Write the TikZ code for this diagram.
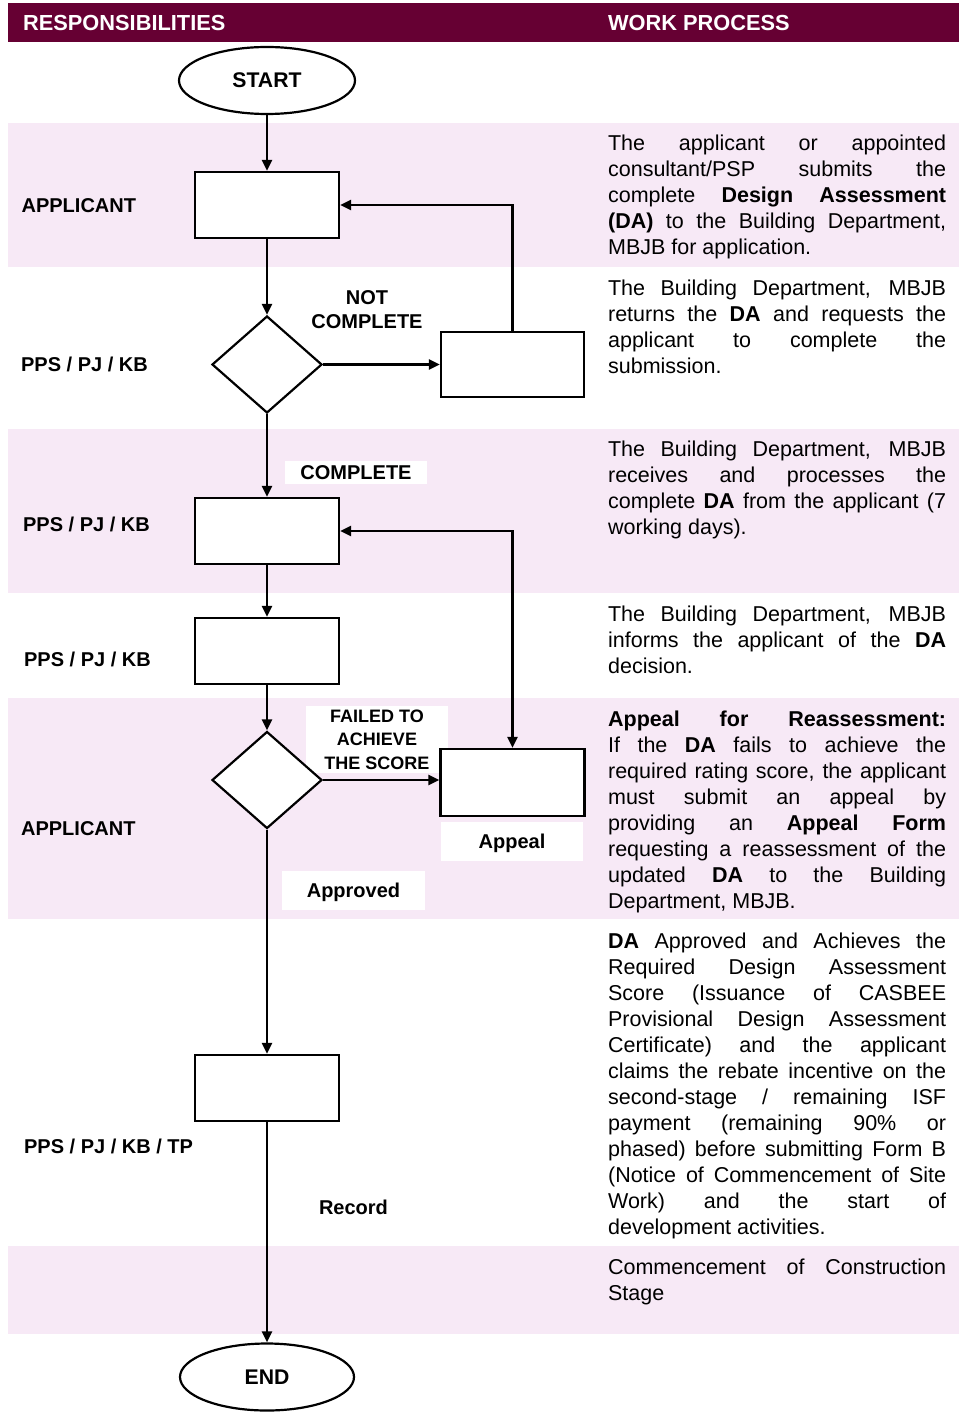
\documentclass[tikz,border=0pt]{standalone}
\usepackage{fontspec}
\setmainfont{Liberation Sans}
\usetikzlibrary{shapes.geometric,arrows.meta}
\definecolor{hdr}{RGB}{102,0,51}
\definecolor{band}{RGB}{247,233,246}
\newcommand\jline[1]{\hbox to 338pt{#1}}
\newcommand\lline[1]{\hbox{#1}}
\newcommand\bo[1]{{\bfseries #1}}
\newcommand\paratext[1]{\vtop{\baselineskip=26pt\lineskiplimit=-\maxdimen\lineskip=0pt #1}}
\hbadness=10000
\hfuzz=30pt
\begin{document}
\begin{tikzpicture}[x=1pt,y=-1pt,line width=2.2pt,
  box/.style={draw,fill=white,rectangle,minimum width=144pt,minimum height=66pt,inner sep=0pt},
  dia/.style={draw,fill=white,diamond,minimum width=110pt,minimum height=97pt,inner sep=0pt},
  term/.style={draw,fill=white,ellipse,minimum width=176pt,minimum height=67pt,inner sep=0pt,font=\bfseries\fontsize{21.2}{24}\selectfont},
  arr/.style={-{Triangle[length=11pt,width=10pt]}},
  arrtwo/.style={{Triangle[length=11pt,width=10pt]}-{Triangle[length=11pt,width=10pt]}},
  hdrtxt/.style={text=white,inner sep=0pt,font=\bfseries\fontsize{21.8}{24}\selectfont},
  lab/.style={inner sep=0pt,font=\bfseries\fontsize{20}{24}\selectfont},
  wlab/.style={fill=white,inner sep=0pt,text height=14.4pt,text depth=0pt,font=\bfseries\fontsize{20}{24}\selectfont},
  body/.style={anchor=base west,inner sep=0pt,font=\fontsize{21.5}{26}\selectfont}]
\useasboundingbox (0,0) rectangle (959,1412);
% header and bands
\fill[hdr] (8,3) rectangle (959,42);
\fill[band] (8,123) rectangle (959,267);
\fill[band] (8,429) rectangle (959,593);
\fill[band] (8,698) rectangle (959,919);
\fill[band] (8,1246) rectangle (959,1334);
\node[hdrtxt,anchor=base west] (h1) at (22,30.5) {RESPONSIBILITIES};
\node[hdrtxt,anchor=base west] (h2) at (607,30.5) {WORK PROCESS};
% responsibilities
\node[lab,anchor=base west] (r1) at (20.5,212.5) {APPLICANT};
\node[lab,anchor=base west] (r2) at (20,371) {PPS / PJ / KB};
\node[lab,anchor=base west] (r3) at (22,531) {PPS / PJ / KB};
\node[lab,anchor=base west] (r4) at (23,666) {PPS / PJ / KB};
\node[lab,anchor=base west] (r5) at (20,835) {APPLICANT};
\node[lab,anchor=base west] (r6) at (23,1153) {PPS / PJ / KB / TP};
% connector labels (drawn under the boxes)
\node[lab,align=center] (lnc) at (367,310) {NOT\\COMPLETE};
\node[wlab,minimum width=142pt,minimum height=23pt] (lc) at (356,472.5) {COMPLETE};
\node[fill=white,inner sep=0pt,minimum width=142pt,minimum height=67pt,align=center,font=\bfseries\fontsize{18}{23.5}\selectfont] (lf) at (377,739.5) {FAILED TO\\ACHIEVE\\THE SCORE};
\node[wlab,minimum width=142pt,minimum height=39pt] (lap) at (512,841.5) {Appeal};
\node[wlab,minimum width=143pt,minimum height=39pt] (lok) at (353.5,890.5) {Approved};
\node[lab] (lrec) at (353.5,1207) {Record};
% flow nodes
\node[term] (start) at (267,80.5) {START};
\node[box] (b1) at (267,205) {};
\node[dia] (d1) at (267,364.5) {};
\node[box,minimum width=143pt,minimum height=65pt] (b2) at (512.5,364.5) {};
\node[box] (b3) at (267,531) {};
\node[box] (b4) at (267,651) {};
\node[dia] (d2) at (267,780) {};
\node[box,minimum height=67pt] (ap) at (512.5,782.5) {};
\node[box] (b5) at (267,1088) {};
\node[term,minimum width=174pt] (end) at (267,1377) {END};
% connectors
\draw[arr] (start.south) -- (b1.north);
\draw[arr] (b1.south) -- (d1.north);
\draw[arr] (d1.east) -- (d1.east -| b2.west);
\draw[arr] (b2.north) |- (b1.east);
\draw[arr] (d1.south) -- (b3.north);
\draw[arr] (b3.south) -- (b4.north);
\draw[arr] (b4.south) -- (d2.north);
\draw[arr] (d2.east) -- (d2.east -| ap.west);
\draw[arrtwo] (b3.east) -| (ap.north);
\draw[arr] (d2.south) -- (b5.north);
\draw[arr] (b5.south) -- (end.north);
% work process texts
\node[body] (t1) at (607,151) {\paratext{%
\jline{The applicant or appointed}
\jline{consultant/PSP submits the}
\jline{complete \bo{Design Assessment}}
\jline{\bo{(DA)} to the Building Department,}
\lline{MBJB for application.}}};
\node[body] (t2) at (607,295) {\paratext{%
\jline{The Building Department, MBJB}
\jline{returns the \bo{DA} and requests the}
\jline{applicant to complete the}
\lline{submission.}}};
\node[body] (t3) at (607,456) {\paratext{%
\jline{The Building Department, MBJB}
\jline{receives and processes the}
\jline{complete \bo{DA} from the applicant (7}
\lline{working days).}}};
\node[body] (t4) at (607,621) {\paratext{%
\jline{The Building Department, MBJB}
\jline{informs the applicant of the \bo{DA}}
\lline{decision.}}};
\node[body] (t5) at (607,726) {\paratext{%
\jline{\bo{Appeal for Reassessment:}}
\jline{If the \bo{DA} fails to achieve the}
\jline{required rating score, the applicant}
\jline{must submit an appeal by}
\jline{providing an \bo{Appeal Form}}
\jline{requesting a reassessment of the}
\jline{updated \bo{DA} to the Building}
\lline{Department, MBJB.}}};
\node[body] (t6) at (607,948) {\paratext{%
\jline{\bo{DA} Approved and Achieves the}
\jline{Required Design Assessment}
\jline{Score (Issuance of CASBEE}
\jline{Provisional Design Assessment}
\jline{Certificate) and the applicant}
\jline{claims the rebate incentive on the}
\jline{second-stage / remaining ISF}
\jline{payment (remaining 90\% or}
\jline{phased) before submitting Form B}
\jline{(Notice of Commencement of Site}
\jline{Work) and the start of}
\lline{development activities.}}};
\node[body] (t7) at (607,1274) {\paratext{%
\jline{Commencement of Construction}
\lline{Stage}}};
\end{tikzpicture}
\end{document}
